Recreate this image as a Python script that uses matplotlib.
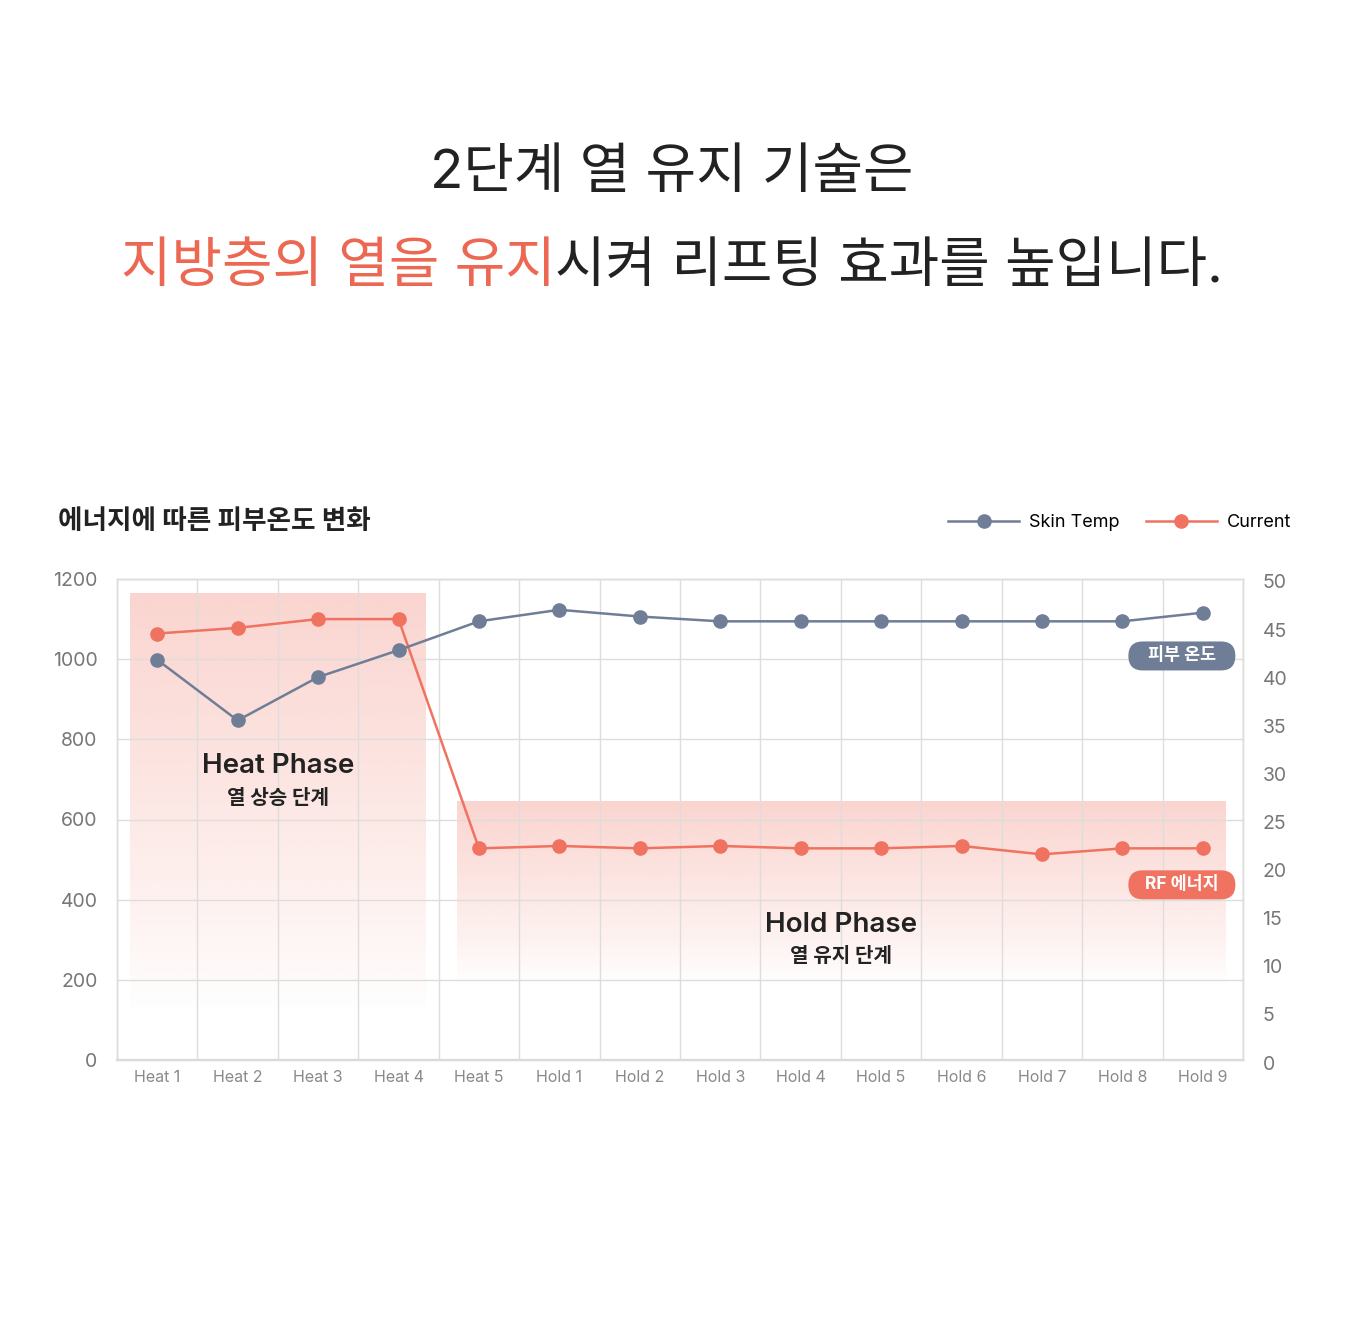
import numpy as np
import matplotlib
matplotlib.use("Agg")
import matplotlib.pyplot as plt
from matplotlib.colors import to_rgb
from matplotlib.patches import FancyBboxPatch
from matplotlib.transforms import IdentityTransform, ScaledTranslation

plt.rcParams["font.family"] = ["Inter", "Noto Sans CJK KR", "DejaVu Sans"]

# ---- data ----
STEPS = ["Heat 1", "Heat 2", "Heat 3", "Heat 4", "Heat 5",
         "Hold 1", "Hold 2", "Hold 3", "Hold 4", "Hold 5",
         "Hold 6", "Hold 7", "Hold 8", "Hold 9"]
SKIN_TEMP = [41.6, 35.3, 39.8, 42.6, 45.6, 46.8, 46.1,
             45.6, 45.6, 45.6, 45.6, 45.6, 45.6, 46.5]
CURRENT = [1064, 1078, 1100, 1100, 528, 534, 528,
           534, 528, 528, 534, 513, 528, 528]
LEFT_TICKS = [0, 200, 400, 600, 800, 1000, 1200]
RIGHT_TICKS = [0, 5, 10, 15, 20, 25, 30, 35, 40, 45, 50]

TITLE_1 = "2단계 열 유지 기술은"
TITLE_2_HL = "지방층의 열을 유지"
TITLE_2_REST = "시켜 리프팅 효과를 높입니다."
CHART_TITLE = "에너지에 따른 피부온도 변화"

SLATE = "#6F7E96"
CORAL = "#F07260"
DARK = "#222222"

W, H = 1350, 1335
fig = plt.figure(figsize=(W / 100, H / 100), dpi=100)
renderer = fig.canvas.get_renderer()

# ---- headline, two-colour second line ----
def centered_line(parts, y_px, size):
    texts = [fig.text(0, 1 - y_px / H, s, color=c, fontsize=size,
                      weight="normal", va="center", ha="left")
             for s, c in parts]
    widths = [t.get_window_extent(renderer).width for t in texts]
    x = 672 - sum(widths) / 2
    for t, w in zip(texts, widths):
        t.set_x(x / W)
        x += w

centered_line([(TITLE_1, DARK)], 174, 39.5)
centered_line([(TITLE_2_HL, "#EC6852"), (TITLE_2_REST, DARK)], 268, 39.5)

fig.text(58 / W, 1 - 522 / H, CHART_TITLE, fontsize=19.2, weight="bold",
         color=DARK, va="center", ha="left")

# ---- axes ----
ax = fig.add_axes([117 / W, 1 - 1060 / H, 1126 / W, 481 / H])
ax2 = ax.twinx()
x = np.arange(len(STEPS))


def gradient_box(x0, x1, y0, y1, top_alpha):
    rgba = np.zeros((256, 1, 4))
    rgba[..., :3] = to_rgb(CORAL)
    rgba[:, 0, 3] = top_alpha * np.linspace(1.0, 0.0, 256) ** 0.85
    ax.imshow(rgba, extent=(x0, x1, y0, y1), aspect="auto",
              origin="upper", zorder=0.5, interpolation="bilinear")


gradient_box(-0.34, 3.33, 120, 1165, 0.30)
gradient_box(3.73, 13.28, 190, 645, 0.30)

cur_line, = ax.plot(x, CURRENT, color=CORAL, lw=1.8, marker="o", ms=9.5,
                    zorder=3, label="Current")
skin_line, = ax2.plot(x, SKIN_TEMP, color=SLATE, lw=1.8, marker="o", ms=9.5,
                      zorder=3, label="Skin Temp")

ax.set_xlim(-0.5, len(STEPS) - 0.5)
ax.set_ylim(0, 1200)
ax2.set_ylim(0, 50)
ax.set_yticks(LEFT_TICKS)
ax2.set_yticks(RIGHT_TICKS)
ax.set_xticks(x)
ax.set_xticklabels(STEPS)
ax.set_xticks(np.arange(len(STEPS) + 1) - 0.5, minor=True)

ax.grid(axis="y", which="major", color="#DDDDDD", lw=1)
ax.grid(axis="x", which="minor", color="#DDDDDD", lw=1)
ax.tick_params(axis="x", which="both", length=0, pad=7,
               labelsize=11.5, labelcolor="#8A8A8A")
ax.tick_params(axis="y", length=0, pad=14, labelsize=14, labelcolor="#777777")
ax2.tick_params(axis="y", length=0, pad=14, labelsize=14, labelcolor="#777777")
shift = ScaledTranslation(0, -2.5 / 100, fig.dpi_scale_trans)
for lbl in ax2.get_yticklabels():
    lbl.set_transform(lbl.get_transform() + shift)
for a in (ax, ax2):
    for s in a.spines.values():
        s.set_color("#DDDDDD")
        s.set_linewidth(1)
ax.spines["bottom"].set_linewidth(1.6)
ax.spines["bottom"].set_color("#D8D8D8")

# phase labels
ax.text(1.5, 733, "Heat Phase", fontsize=20, weight="semibold", color=DARK,
        ha="center", va="center", zorder=4)
ax.text(1.5, 653, "열 상승 단계", fontsize=14.5, weight="bold", color=DARK,
        ha="center", va="center", zorder=4)
ax.text(8.5, 338, "Hold Phase", fontsize=20, weight="semibold", color=DARK,
        ha="center", va="center", zorder=4)
ax.text(8.5, 258, "열 유지 단계", fontsize=14.5, weight="bold", color=DARK,
        ha="center", va="center", zorder=4)


# pill tags at the right end of each series
def pill(xd, yd, text, color):
    cx, cy = ax.transData.transform((xd, yd))
    w, h = 107, 29
    patch = FancyBboxPatch((cx - w / 2, cy - h / 2), w, h,
                           boxstyle=f"round,pad=0,rounding_size={h / 2}",
                           transform=IdentityTransform(), fc=color, ec="none",
                           zorder=5)
    fig.add_artist(patch)
    fig.text(cx / W, cy / H, text, color="white", fontsize=12.5, weight="bold",
             ha="center", va="center", zorder=6)


pill(12.74, 1008, "피부 온도", SLATE)
pill(12.74, 437, "RF 에너지", CORAL)

fig.legend(handles=[skin_line, cur_line], loc="center right",
           bbox_to_anchor=(1291 / W, 1 - 523 / H), ncol=2, frameon=False,
           fontsize=13, handlelength=3.9, handletextpad=0.55,
           columnspacing=1.5, borderpad=0, borderaxespad=0)

fig.savefig("out.png", dpi=100, facecolor="white")
